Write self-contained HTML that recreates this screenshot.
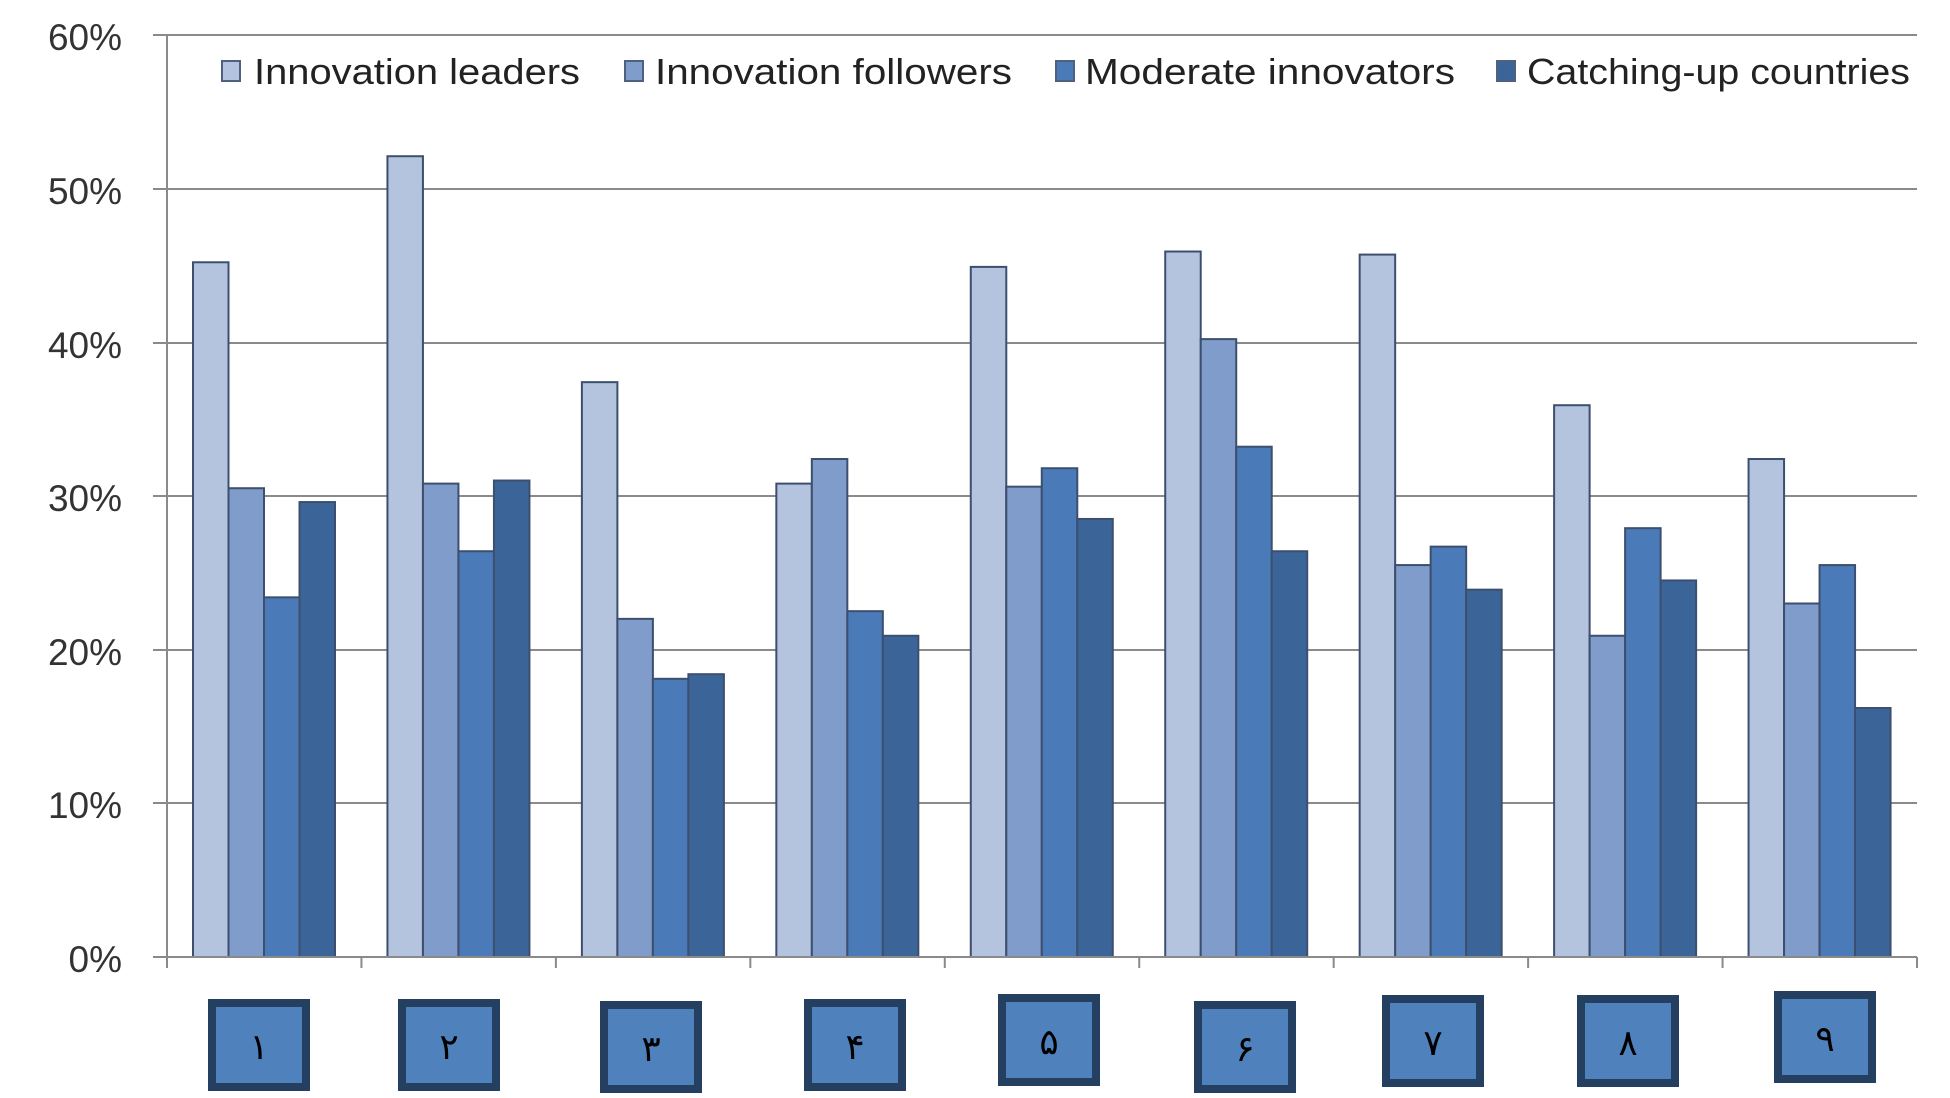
<!DOCTYPE html>
<html><head><meta charset="utf-8"><style>html,body{margin:0;padding:0;background:#fff}svg{display:block}</style></head>
<body>
<svg width="1950" height="1098" viewBox="0 0 1950 1098" xmlns="http://www.w3.org/2000/svg" font-family="Liberation Sans, sans-serif">
<g stroke="#8a8a8a" stroke-width="2">
<line x1="153" y1="35" x2="1917" y2="35"/>
<line x1="153" y1="189" x2="1917" y2="189"/>
<line x1="153" y1="343" x2="1917" y2="343"/>
<line x1="153" y1="496" x2="1917" y2="496"/>
<line x1="153" y1="650" x2="1917" y2="650"/>
<line x1="153" y1="803" x2="1917" y2="803"/>
<line x1="167" y1="35" x2="167" y2="957"/>
</g>
<g font-size="37" fill="#333" text-anchor="end">
<text x="122" y="50">60%</text><text x="122" y="204">50%</text><text x="122" y="358">40%</text>
<text x="122" y="511">30%</text><text x="122" y="665">20%</text><text x="122" y="818">10%</text><text x="122" y="972">0%</text>
</g>
<g id="bars" stroke="#3d4f6e" stroke-width="2"></g>
<g stroke="#8a8a8a" stroke-width="2">
<line x1="153" y1="957" x2="1917" y2="957"/>
</g>
<g id="ticks" stroke="#8a8a8a" stroke-width="2"></g>
<g font-size="36" fill="#222">
<rect x="222" y="61" width="18" height="20" fill="#b4c4df" stroke="#4f6080" stroke-width="2"/>
<text x="254" y="84" textLength="326" lengthAdjust="spacingAndGlyphs">Innovation leaders</text>
<rect x="625" y="61" width="18" height="20" fill="#7f9ccb" stroke="#4f6080" stroke-width="2"/>
<text x="655" y="84" textLength="357" lengthAdjust="spacingAndGlyphs">Innovation followers</text>
<rect x="1056" y="61" width="18" height="20" fill="#4a7ab8" stroke="#4f6080" stroke-width="2"/>
<text x="1085" y="84" textLength="370" lengthAdjust="spacingAndGlyphs">Moderate innovators</text>
<rect x="1497" y="61" width="18" height="20" fill="#3b6599" stroke="#4f6080" stroke-width="2"/>
<text x="1527" y="84" textLength="383" lengthAdjust="spacingAndGlyphs">Catching-up countries</text>
</g>
<g id="boxes"></g>
<script>
var d=[[45.2,30.5,23.4,29.6],[52.1,30.8,26.4,31.0],[37.4,22.0,18.1,18.4],[30.8,32.4,22.5,20.9],[44.9,30.6,31.8,28.5],[45.9,40.2,33.2,26.4],[45.7,25.5,26.7,23.9],[35.9,20.9,27.9,24.5],[32.4,23.0,25.5,16.2]];
var c=["#b4c4df","#7f9ccb","#4a7ab8","#3b6599"];
var ns="http://www.w3.org/2000/svg",g=document.getElementById("bars"),t=document.getElementById("ticks"),b=document.getElementById("boxes");
var cw=(1917-167)/9;
var bl=[208,398,600,804,998,1194,1382,1577,1774],bt=[999,999,1001,999,994,1001,995,995,991];
var dig=["١","٢","٣","۴","۵","۶","٧","٨","٩"];
for(var i=0;i<9;i++){var x0=167+i*cw+26;
for(var j=0;j<4;j++){var r=document.createElementNS(ns,"rect");var h=d[i][j]*15.37;
r.setAttribute("x",x0+j*35.5);r.setAttribute("y",957-h);r.setAttribute("width",35.5);r.setAttribute("height",h);r.setAttribute("fill",c[j]);g.appendChild(r);}
}
for(var i=0;i<=9;i++){var l=document.createElementNS(ns,"line");var x=167+i*cw;l.setAttribute("x1",x);l.setAttribute("x2",x);l.setAttribute("y1",957);l.setAttribute("y2",968);t.appendChild(l);}
for(var i=0;i<9;i++){var r=document.createElementNS(ns,"rect");r.setAttribute("x",bl[i]+4);r.setAttribute("y",bt[i]+4);r.setAttribute("width",94);r.setAttribute("height",84);r.setAttribute("fill","#4f81bd");r.setAttribute("stroke","#243f60");r.setAttribute("stroke-width",8);b.appendChild(r);
var tx=document.createElementNS(ns,"text");tx.setAttribute("x",bl[i]+51);tx.setAttribute("y",bt[i]+60);tx.setAttribute("text-anchor","middle");tx.setAttribute("font-size","36");tx.setAttribute("font-family","DejaVu Sans, sans-serif");tx.setAttribute("fill","#000");tx.textContent=dig[i];b.appendChild(tx);}
</script>
</svg>
</body></html>
